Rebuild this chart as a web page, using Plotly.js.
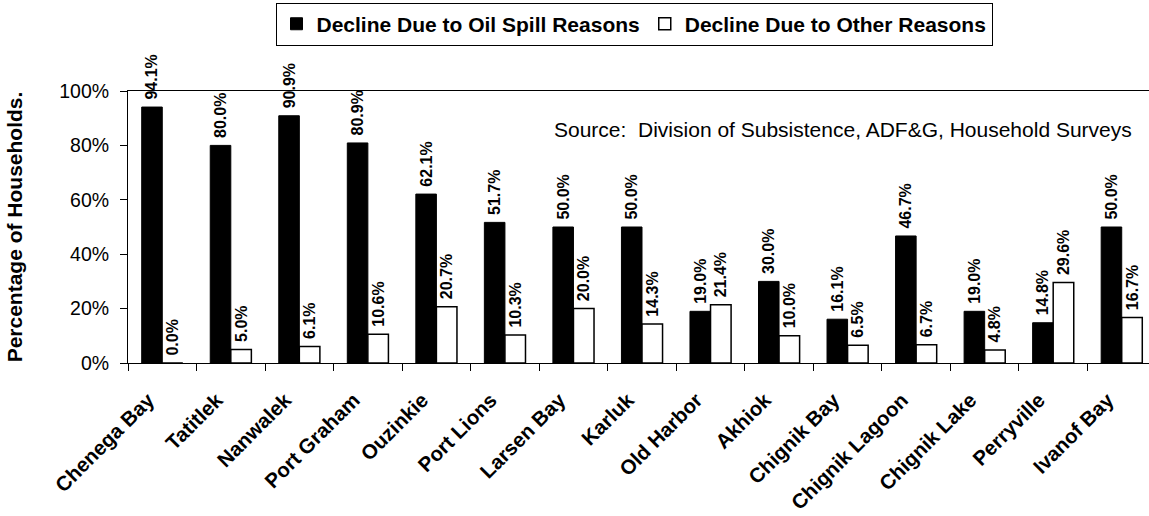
<!DOCTYPE html>
<html>
<head>
<meta charset="utf-8">
<script src="https://cdn.plot.ly/plotly-3.0.1.min.js"></script>
<style>
html,body{margin:0;padding:0;background:#fff;}
#chart{width:1149px;height:516px;}
</style>
</head>
<body>
<div id="chart"></div>
<script>
const communities = ["Chenega Bay","Tatitlek","Nanwalek","Port Graham","Ouzinkie","Port Lions","Larsen Bay","Karluk","Old Harbor","Akhiok","Chignik Bay","Chignik Lagoon","Chignik Lake","Perryville","Ivanof Bay"];
const oilSpillPct = [94.1,80.0,90.9,80.9,62.1,51.7,50.0,50.0,19.0,30.0,16.1,46.7,19.0,14.8,50.0];
const otherPct = [0.0,5.0,6.1,10.6,20.7,10.3,20.0,14.3,21.4,10.0,6.5,6.7,4.8,29.6,16.7];
const seriesNames = ["Decline Due to Oil Spill Reasons","Decline Due to Other Reasons"];
const sourceNote = "Source:  Division of Subsistence, ADF&G, Household Surveys";
const yTitle = "Percentage of Households.";

const FONT = "'Liberation Sans', Arial, Helvetica, sans-serif";
const toFrac = a => a.map(v => v / 100);
const toLabel = a => a.map(v => "\u00a0" + v.toFixed(1) + "%");

const common = {
  type: "bar",
  x: communities,
  textposition: "outside",
  textangle: -90,
  constraintext: "none",
  cliponaxis: false,
  textfont: {family: FONT, size: 16, color: "#000", weight: "bold"},
  hoverinfo: "x+text"
};

const traces = [
  Object.assign({}, common, {
    name: seriesNames[0],
    y: toFrac(oilSpillPct),
    text: toLabel(oilSpillPct),
    marker: {color: "#000000", line: {color: "#000000", width: 1}}
  }),
  Object.assign({}, common, {
    name: seriesNames[1],
    y: toFrac(otherPct),
    text: toLabel(otherPct),
    marker: {color: "#ffffff", line: {color: "#000000", width: 1.5}}
  })
];

const layout = {
  width: 1149,
  height: 516,
  margin: {l: 128, r: 0, t: 90.5, b: 153, pad: 0},
  paper_bgcolor: "#fff",
  plot_bgcolor: "#fff",
  font: {family: FONT, color: "#000"},
  barmode: "group",
  bargap: 0.4,
  bargroupgap: 0,
  showlegend: true,
  legend: {
    orientation: "h",
    x: (634 - 128) / 1021,
    xanchor: "center",
    y: 1.325,
    yanchor: "top",
    bordercolor: "#000",
    borderwidth: 1,
    bgcolor: "#fff",
    font: {family: FONT, size: 21, color: "#000", weight: "bold"},
    itemwidth: 30,
    traceorder: "normal"
  },
  xaxis: {
    type: "category",
    range: [-0.5, 14.398],
    tickson: "boundaries",
    ticks: "outside",
    ticklen: 7,
    tickcolor: "#000",
    tickwidth: 1,
    showline: true,
    linecolor: "#000",
    linewidth: 1,
    mirror: true,
    showgrid: false,
    zeroline: false,
    tickangle: -45,
    ticklabelstandoff: 16,
    ticklabelshift: -14,
    tickfont: {family: FONT, size: 20.5, color: "#000", weight: "bold"},
    fixedrange: true
  },
  yaxis: {
    range: [0, 1],
    dtick: 0.2,
    tick0: 0,
    tickformat: ".0%",
    ticks: "outside",
    ticklen: 7,
    tickcolor: "#000",
    tickwidth: 1,
    showline: true,
    linecolor: "#000",
    linewidth: 1,
    showgrid: false,
    zeroline: false,
    ticklabelstandoff: 7,
    tickfont: {family: FONT, size: 19.5, color: "#000"},
    title: {text: yTitle, standoff: 30, font: {family: FONT, size: 21, color: "#000", weight: "bold"}},
    fixedrange: true
  },
  annotations: [{
    xref: "paper", yref: "paper",
    x: (1134 - 128) / 1021, y: (363 - 129) / 272.5,
    xanchor: "right", yanchor: "middle",
    text: sourceNote,
    showarrow: false,
    font: {family: FONT, size: 21, color: "#000"}
  }]
};

Plotly.newPlot("chart", traces, layout, {displayModeBar: false, staticPlot: true});
</script>
</body>
</html>
